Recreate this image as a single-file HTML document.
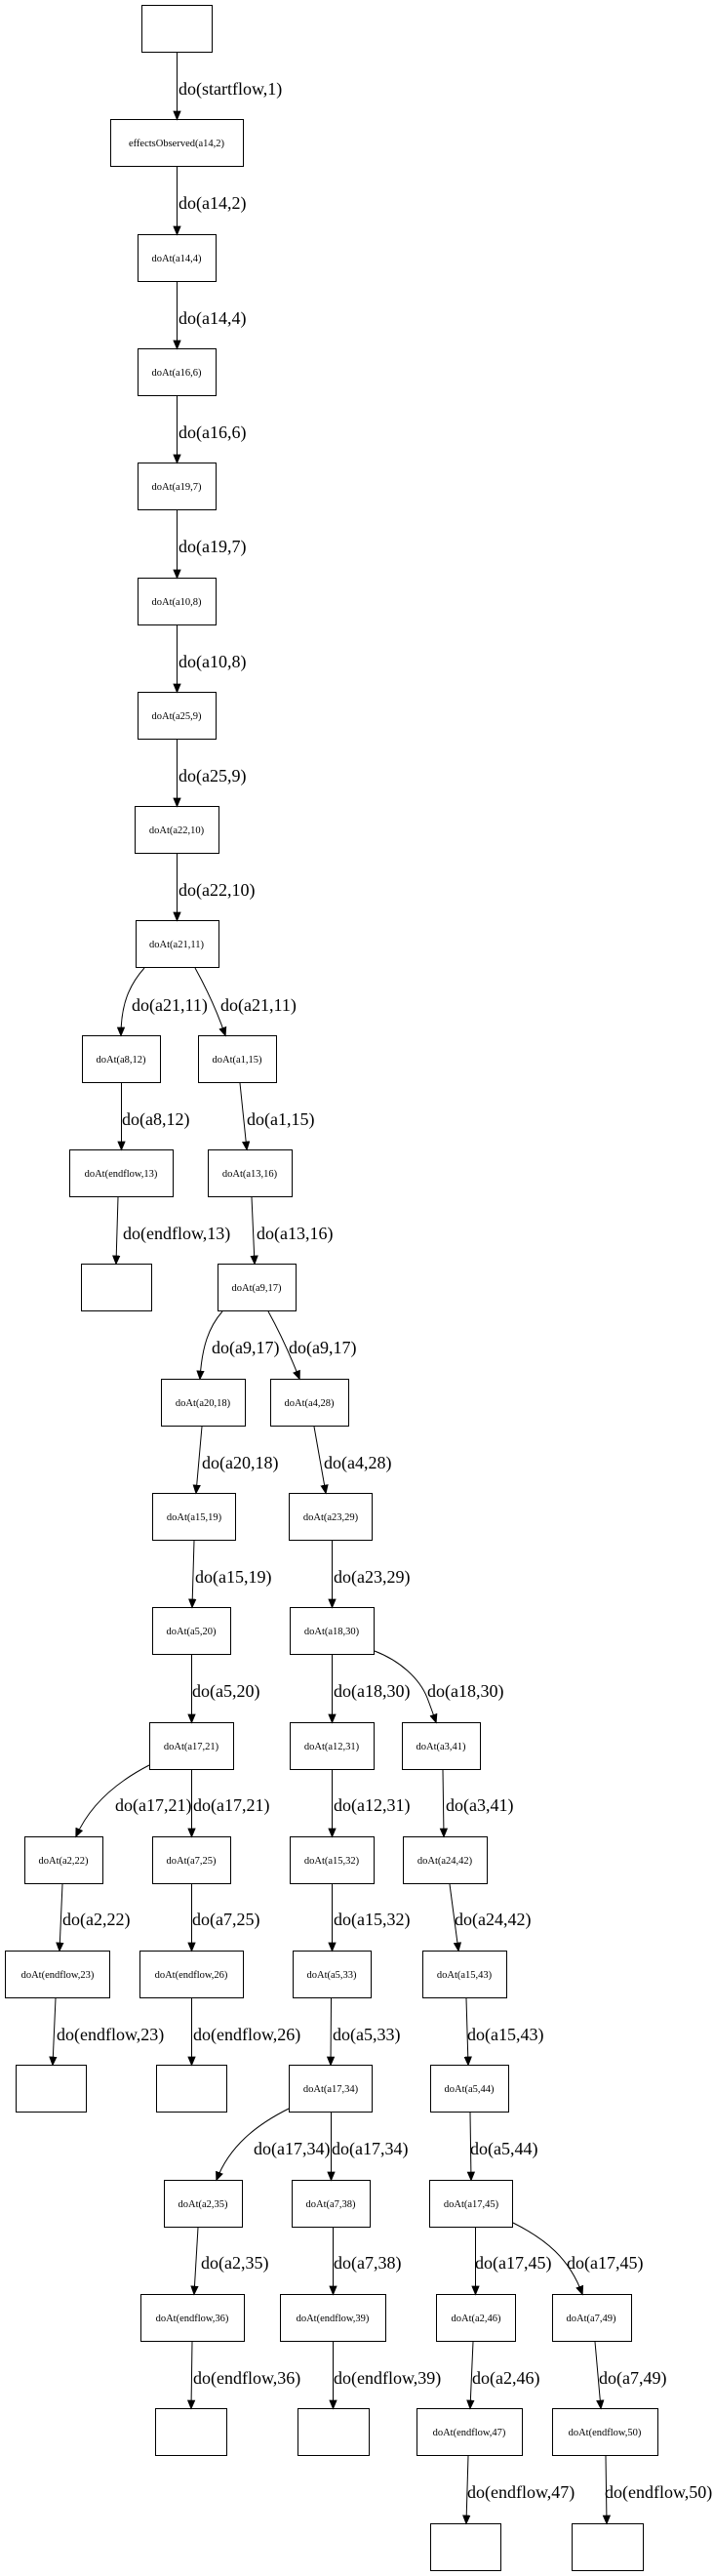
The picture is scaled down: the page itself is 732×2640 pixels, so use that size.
<!DOCTYPE html>
<html><head><meta charset="utf-8"><style>
html,body{margin:0;padding:0;background:#fff;}
svg{display:block;}
.n{fill:#fff;stroke:#000;stroke-width:1;}
.t{font-family:"Liberation Serif",serif;font-size:10.5px;text-anchor:middle;}
.l{font-family:"Liberation Serif",serif;font-size:18px;}
.e{fill:none;stroke:#000;stroke-width:1;}
</style></head><body>
<svg width="732" height="2640" viewBox="0 0 732 2640" xmlns="http://www.w3.org/2000/svg">
<defs><marker id="a" markerWidth="10" markerHeight="12" refX="10" refY="5" orient="auto" markerUnits="userSpaceOnUse" viewBox="0 0 12 10"><path d="M0,0 L12,5 L0,10 z" fill="#000"/></marker></defs>
<!-- nodes -->
<rect class="n" x="145.5" y="5.5" width="72" height="48"/>
<rect class="n" x="113.5" y="122.5" width="136" height="48"/><text class="t" x="181" y="150">effectsObserved(a14,2)</text>
<rect class="n" x="141.5" y="240.5" width="80" height="48"/><text class="t" x="181" y="268">doAt(a14,4)</text>
<rect class="n" x="141.5" y="357.5" width="80" height="48"/><text class="t" x="181" y="385">doAt(a16,6)</text>
<rect class="n" x="141.5" y="474.5" width="80" height="48"/><text class="t" x="181" y="502">doAt(a19,7)</text>
<rect class="n" x="141.5" y="592.5" width="80" height="48"/><text class="t" x="181" y="620">doAt(a10,8)</text>
<rect class="n" x="141.5" y="709.5" width="80" height="48"/><text class="t" x="181" y="737">doAt(a25,9)</text>
<rect class="n" x="138.5" y="826.5" width="86" height="48"/><text class="t" x="181" y="854">doAt(a22,10)</text>
<rect class="n" x="139.5" y="943.5" width="85" height="48"/><text class="t" x="181" y="971">doAt(a21,11)</text>
<rect class="n" x="84.5" y="1061.5" width="80" height="48"/><text class="t" x="124" y="1089">doAt(a8,12)</text>
<rect class="n" x="203.5" y="1061.5" width="80" height="48"/><text class="t" x="243" y="1089">doAt(a1,15)</text>
<rect class="n" x="71.5" y="1178.5" width="106" height="48"/><text class="t" x="124" y="1206">doAt(endflow,13)</text>
<rect class="n" x="213.5" y="1178.5" width="86" height="48"/><text class="t" x="256" y="1206">doAt(a13,16)</text>
<rect class="n" x="83.5" y="1295.5" width="72" height="48"/>
<rect class="n" x="223.5" y="1295.5" width="80" height="48"/><text class="t" x="263" y="1323">doAt(a9,17)</text>
<rect class="n" x="165.5" y="1413.5" width="86" height="48"/><text class="t" x="208" y="1441">doAt(a20,18)</text>
<rect class="n" x="277.5" y="1413.5" width="80" height="48"/><text class="t" x="317" y="1441">doAt(a4,28)</text>
<rect class="n" x="156.5" y="1530.5" width="85" height="48"/><text class="t" x="199" y="1558">doAt(a15,19)</text>
<rect class="n" x="296.5" y="1530.5" width="85" height="48"/><text class="t" x="339" y="1558">doAt(a23,29)</text>
<rect class="n" x="156.5" y="1647.5" width="80" height="48"/><text class="t" x="196" y="1675">doAt(a5,20)</text>
<rect class="n" x="297.5" y="1647.5" width="86" height="48"/><text class="t" x="340" y="1675">doAt(a18,30)</text>
<rect class="n" x="153.5" y="1765.5" width="86" height="48"/><text class="t" x="196" y="1793">doAt(a17,21)</text>
<rect class="n" x="297.5" y="1765.5" width="86" height="48"/><text class="t" x="340" y="1793">doAt(a12,31)</text>
<rect class="n" x="412.5" y="1765.5" width="80" height="48"/><text class="t" x="452" y="1793">doAt(a3,41)</text>
<rect class="n" x="25.5" y="1882.5" width="80" height="48"/><text class="t" x="65" y="1910">doAt(a2,22)</text>
<rect class="n" x="156.5" y="1882.5" width="80" height="48"/><text class="t" x="196" y="1910">doAt(a7,25)</text>
<rect class="n" x="297.5" y="1882.5" width="86" height="48"/><text class="t" x="340" y="1910">doAt(a15,32)</text>
<rect class="n" x="413.5" y="1882.5" width="86" height="48"/><text class="t" x="456" y="1910">doAt(a24,42)</text>
<rect class="n" x="5.5" y="1999.5" width="107" height="48"/><text class="t" x="59" y="2027">doAt(endflow,23)</text>
<rect class="n" x="143.5" y="1999.5" width="106" height="48"/><text class="t" x="196" y="2027">doAt(endflow,26)</text>
<rect class="n" x="300.5" y="1999.5" width="80" height="48"/><text class="t" x="340" y="2027">doAt(a5,33)</text>
<rect class="n" x="433.5" y="1999.5" width="86" height="48"/><text class="t" x="476" y="2027">doAt(a15,43)</text>
<rect class="n" x="16.5" y="2116.5" width="72" height="48"/>
<rect class="n" x="160.5" y="2116.5" width="72" height="48"/>
<rect class="n" x="296.5" y="2116.5" width="85" height="48"/><text class="t" x="339" y="2144">doAt(a17,34)</text>
<rect class="n" x="441.5" y="2116.5" width="80" height="48"/><text class="t" x="481" y="2144">doAt(a5,44)</text>
<rect class="n" x="168.5" y="2234.5" width="80" height="48"/><text class="t" x="208" y="2262">doAt(a2,35)</text>
<rect class="n" x="299.5" y="2234.5" width="80" height="48"/><text class="t" x="339" y="2262">doAt(a7,38)</text>
<rect class="n" x="440.5" y="2234.5" width="85" height="48"/><text class="t" x="483" y="2262">doAt(a17,45)</text>
<rect class="n" x="144.5" y="2351.5" width="106" height="48"/><text class="t" x="197" y="2379">doAt(endflow,36)</text>
<rect class="n" x="287.5" y="2351.5" width="108" height="48"/><text class="t" x="341" y="2379">doAt(endflow,39)</text>
<rect class="n" x="447.5" y="2351.5" width="81" height="48"/><text class="t" x="488" y="2379">doAt(a2,46)</text>
<rect class="n" x="566.5" y="2351.5" width="81" height="48"/><text class="t" x="606" y="2379">doAt(a7,49)</text>
<rect class="n" x="159.5" y="2468.5" width="73" height="48"/>
<rect class="n" x="305.5" y="2468.5" width="73" height="48"/>
<rect class="n" x="427.5" y="2468.5" width="108" height="48"/><text class="t" x="481" y="2496">doAt(endflow,47)</text>
<rect class="n" x="566.5" y="2468.5" width="108" height="48"/><text class="t" x="620" y="2496">doAt(endflow,50)</text>
<rect class="n" x="441.5" y="2586.5" width="72" height="48"/>
<rect class="n" x="586.5" y="2586.5" width="73" height="48"/>
<!-- edges -->
<g class="e" marker-end="url(#a)">
<path class="e" d="M181.5,54 L181.5,122" marker-end="url(#a)"/>
<path class="e" d="M181.5,171 L181.5,240" marker-end="url(#a)"/>
<path class="e" d="M181.5,289 L181.5,357" marker-end="url(#a)"/>
<path class="e" d="M181.5,406 L181.5,474" marker-end="url(#a)"/>
<path class="e" d="M181.5,523 L181.5,592" marker-end="url(#a)"/>
<path class="e" d="M181.5,641 L181.5,709" marker-end="url(#a)"/>
<path class="e" d="M181.5,758 L181.5,826" marker-end="url(#a)"/>
<path class="e" d="M181.5,875 L181.5,943" marker-end="url(#a)"/>
<path class="e" d="M148,992 C132,1010 124,1030 124,1061" marker-end="url(#a)"/>
<path class="e" d="M200,992 C210,1010 222,1035 231,1061" marker-end="url(#a)"/>
<path class="e" d="M124.5,1110 L124.5,1178" marker-end="url(#a)"/>
<path class="e" d="M246,1110 L253,1178" marker-end="url(#a)"/>
<path class="e" d="M121,1227 L119,1295" marker-end="url(#a)"/>
<path class="e" d="M258,1227 L261,1295" marker-end="url(#a)"/>
<path class="e" d="M228,1344 C214,1360 207,1380 205,1413" marker-end="url(#a)"/>
<path class="e" d="M275,1344 C285,1362 296,1385 307,1413" marker-end="url(#a)"/>
<path class="e" d="M207,1462 L201,1530" marker-end="url(#a)"/>
<path class="e" d="M322,1462 L334,1530" marker-end="url(#a)"/>
<path class="e" d="M199,1579 L197,1647" marker-end="url(#a)"/>
<path class="e" d="M340.5,1579 L340.5,1647" marker-end="url(#a)"/>
<path class="e" d="M196.5,1696 L196.5,1765" marker-end="url(#a)"/>
<path class="e" d="M340.5,1696 L340.5,1765" marker-end="url(#a)"/>
<path class="e" d="M384,1692 C410,1702 430,1720 438,1740 C441,1748 444,1756 447,1765" marker-end="url(#a)"/>
<path class="e" d="M153,1809 C120,1826 92,1850 78,1882" marker-end="url(#a)"/>
<path class="e" d="M196.5,1814 L196.5,1882" marker-end="url(#a)"/>
<path class="e" d="M340.5,1814 L340.5,1882" marker-end="url(#a)"/>
<path class="e" d="M454,1814 L455,1882" marker-end="url(#a)"/>
<path class="e" d="M64,1931 L61,1999" marker-end="url(#a)"/>
<path class="e" d="M196.5,1931 L196.5,1999" marker-end="url(#a)"/>
<path class="e" d="M340.5,1931 L340.5,1999" marker-end="url(#a)"/>
<path class="e" d="M461,1931 L470,1999" marker-end="url(#a)"/>
<path class="e" d="M57,2048 L54,2116" marker-end="url(#a)"/>
<path class="e" d="M196.5,2048 L196.5,2116" marker-end="url(#a)"/>
<path class="e" d="M339.5,2048 L339,2116" marker-end="url(#a)"/>
<path class="e" d="M478,2048 L480,2116" marker-end="url(#a)"/>
<path class="e" d="M296,2161 C262,2178 235,2200 222,2234" marker-end="url(#a)"/>
<path class="e" d="M339.5,2165 L339.5,2234" marker-end="url(#a)"/>
<path class="e" d="M482,2165 L483,2234" marker-end="url(#a)"/>
<path class="e" d="M203,2283 L199,2351" marker-end="url(#a)"/>
<path class="e" d="M341.5,2283 L341.5,2351" marker-end="url(#a)"/>
<path class="e" d="M487.5,2283 L487.5,2351" marker-end="url(#a)"/>
<path class="e" d="M526,2278 C560,2295 584,2315 597,2351" marker-end="url(#a)"/>
<path class="e" d="M197,2400 L196,2468" marker-end="url(#a)"/>
<path class="e" d="M341.5,2400 L341.5,2468" marker-end="url(#a)"/>
<path class="e" d="M485,2400 L482,2468" marker-end="url(#a)"/>
<path class="e" d="M610,2400 L616,2468" marker-end="url(#a)"/>
<path class="e" d="M480,2517 L478,2586" marker-end="url(#a)"/>
<path class="e" d="M621,2517 L622,2586" marker-end="url(#a)"/>
</g>
<!-- edge labels -->
<g class="l">
<text x="183" y="97">do(startflow,1)</text>
<text x="183" y="214">do(a14,2)</text>
<text x="183" y="332">do(a14,4)</text>
<text x="183" y="449">do(a16,6)</text>
<text x="183" y="566">do(a19,7)</text>
<text x="183" y="684">do(a10,8)</text>
<text x="183" y="801">do(a25,9)</text>
<text x="183" y="918">do(a22,10)</text>
<text x="135" y="1036">do(a21,11)</text>
<text x="226" y="1036">do(a21,11)</text>
<text x="125" y="1153">do(a8,12)</text>
<text x="253" y="1153">do(a1,15)</text>
<text x="126" y="1270">do(endflow,13)</text>
<text x="263" y="1270">do(a13,16)</text>
<text x="217" y="1387">do(a9,17)</text>
<text x="296" y="1387">do(a9,17)</text>
<text x="207" y="1505">do(a20,18)</text>
<text x="332" y="1505">do(a4,28)</text>
<text x="200" y="1622">do(a15,19)</text>
<text x="342" y="1622">do(a23,29)</text>
<text x="197" y="1739">do(a5,20)</text>
<text x="342" y="1739">do(a18,30)</text>
<text x="438" y="1739">do(a18,30)</text>
<text x="118" y="1856">do(a17,21)</text>
<text x="198" y="1856">do(a17,21)</text>
<text x="342" y="1856">do(a12,31)</text>
<text x="457" y="1856">do(a3,41)</text>
<text x="64" y="1973">do(a2,22)</text>
<text x="197" y="1973">do(a7,25)</text>
<text x="342" y="1973">do(a15,32)</text>
<text x="466" y="1973">do(a24,42)</text>
<text x="58" y="2091">do(endflow,23)</text>
<text x="198" y="2091">do(endflow,26)</text>
<text x="341" y="2091">do(a5,33)</text>
<text x="479" y="2091">do(a15,43)</text>
<text x="260" y="2208">do(a17,34)</text>
<text x="340" y="2208">do(a17,34)</text>
<text x="482" y="2208">do(a5,44)</text>
<text x="206" y="2325">do(a2,35)</text>
<text x="342" y="2325">do(a7,38)</text>
<text x="487" y="2325">do(a17,45)</text>
<text x="581" y="2325">do(a17,45)</text>
<text x="198" y="2443">do(endflow,36)</text>
<text x="342" y="2443">do(endflow,39)</text>
<text x="484" y="2443">do(a2,46)</text>
<text x="614" y="2443">do(a7,49)</text>
<text x="479" y="2560">do(endflow,47)</text>
<text x="620" y="2560">do(endflow,50)</text>
</g>
</svg>
</body></html>
